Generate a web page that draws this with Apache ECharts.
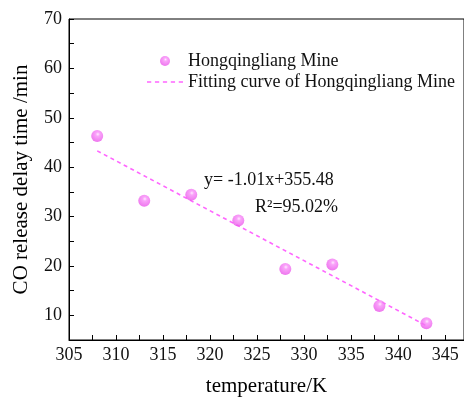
<!DOCTYPE html>
<html>
<head>
<meta charset="utf-8">
<script src="https://cdn.jsdelivr.net/npm/echarts@6/dist/echarts.min.js"></script>
<style>
html, body { margin: 0; padding: 0; background: #fff; }
#main { width: 464px; height: 397px; }
</style>
</head>
<body>
<div id="main"></div>
<script>
var temperature = [308, 313, 318, 323, 328, 333, 338, 343];
var delayTime = [46.3, 33.2, 34.4, 29.2, 19.4, 20.3, 11.9, 8.4];
var fitX = [308, 343];
var fitY = [43.3, 7.9];

var serif = 'Liberation Serif';
var myChart = echarts.init(document.getElementById('main'));

var ball = {
    type: 'radial',
    x: 0.55,
    y: 0.35,
    r: 0.7,
    colorStops: [{
        offset: 0, color: '#ffe4ff'
    }, {
        offset: 0.25, color: '#f88cf8'
    }, {
        offset: 1, color: '#e84ee8'
    }]
};

// dashed line for the legend
var dashIcon = 'path://M0,0h4v1.5h-4z M7.5,0h4v1.5h-4z M15,0h4v1.5h-4z M22.5,0h4v1.5h-4z M30,0h4v1.5h-4z';

option = {
    animation: false,
    grid: {
        left: 69,
        top: 19,
        right: 0,
        bottom: 57,
        outerBoundsMode: 'none',
        show: true,
        borderColor: '#000',
        borderWidth: 1
    },
    legend: {
        orient: 'vertical',
        left: 142,
        top: 47,
        itemWidth: 36,
        itemHeight: 10,
        itemGap: 3,
        textStyle: { fontFamily: serif, fontSize: 18, color: '#111' },
        data: [
            { name: 'Hongqingliang Mine', icon: 'circle' },
            { name: 'Fitting curve of Hongqingliang Mine', icon: dashIcon }
        ]
    },
    xAxis: {
        type: 'value',
        min: 305,
        max: 347,
        interval: 5,
        name: 'temperature/K',
        nameLocation: 'middle',
        nameGap: 36,
        nameTextStyle: { fontFamily: serif, fontSize: 21, color: '#000' },
        axisLine: { lineStyle: { color: '#000' } },
        axisTick: { inside: true, length: 5, lineStyle: { color: '#000' } },
        minorTick: { show: true, splitNumber: 2, length: 5, lineStyle: { color: '#000' } },
        axisLabel: {
            margin: 6, fontFamily: serif, fontSize: 18, color: '#111', showMaxLabel: false,
            formatter: function (v) { return v % 5 === 0 ? String(v) : ''; }
        },
        splitLine: { show: false }
    },
    yAxis: {
        type: 'value',
        min: 5,
        max: 70,
        interval: 5,
        name: 'CO release delay time /min',
        nameLocation: 'middle',
        nameGap: 37,
        nameTextStyle: { fontFamily: serif, fontSize: 21, color: '#000' },
        axisLine: { lineStyle: { color: '#000' } },
        axisTick: { inside: true, length: 5, lineStyle: { color: '#000' } },
        axisLabel: {
            margin: 7, fontFamily: serif, fontSize: 18, color: '#111',
            formatter: function (v) { return v % 10 === 0 ? String(v) : ''; }
        },
        splitLine: { show: false }
    },
    series: [{
        name: 'Hongqingliang Mine',
        type: 'scatter',
        symbol: 'circle',
        symbolSize: 12,
        itemStyle: { color: ball },
        data: temperature.map(function (t, i) { return [t, delayTime[i]]; }),
        z: 3
    }, {
        name: 'Fitting curve of Hongqingliang Mine',
        type: 'line',
        symbol: 'none',
        lineStyle: { color: '#ff66ff', width: 1.6, type: [4, 3.5] },
        itemStyle: { color: '#ff66ff' },
        data: fitX.map(function (t, i) { return [t, fitY[i]]; }),
        z: 2
    }],
    graphic: [{
        type: 'text',
        left: 204,
        top: 171,
        style: { text: 'y= -1.01x+355.48', fontFamily: serif, fontSize: 18, fill: '#111' }
    }, {
        type: 'text',
        left: 255,
        top: 198,
        style: { text: 'R\u00b2=95.02%', fontFamily: serif, fontSize: 18, fill: '#111' }
    }]
};

myChart.setOption(option);
</script>
</body>
</html>
